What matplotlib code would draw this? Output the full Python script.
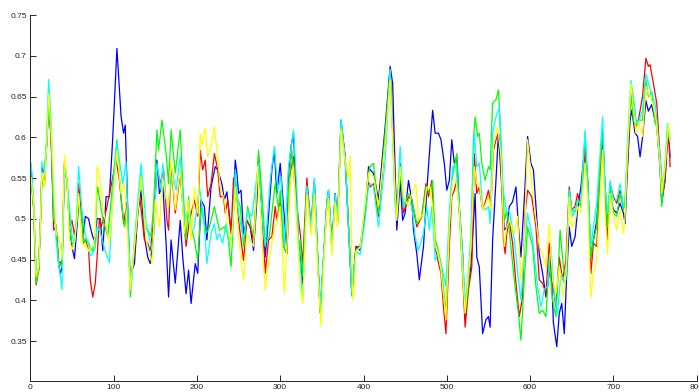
import matplotlib
matplotlib.use("Agg")
import matplotlib.pyplot as plt

# values, keypoints per series
blue_x = [1, 4, 7, 10, 12, 14, 17, 20, 22, 25, 28, 31, 34, 36, 38, 41, 44, 47, 50, 53, 56, 58, 62, 64, 66, 70, 72, 75, 78, 80,
          84, 87, 91, 95, 99, 104, 109, 112, 114, 116, 119, 121, 125, 129, 133, 137, 141, 144, 148, 152, 155, 159, 163,
          166, 169, 174, 180, 183, 187, 190, 193, 198, 201, 205, 209, 212, 217, 222, 225, 230, 233, 236, 240, 242, 246,
          248, 250, 253, 256, 260, 264, 268, 272, 274, 278, 282, 286, 290, 293, 296, 300, 304, 308, 310, 313, 316, 318,
          322, 324, 327, 332, 337, 341, 345, 348, 352, 356, 358, 362, 366, 369, 373, 378, 382, 386, 388, 391, 396, 402,
          406, 408, 412, 418, 426, 432, 435, 438, 440, 444, 447, 450, 454, 458, 460, 464, 467, 472, 476, 480, 483, 486,
          490, 493, 497, 500, 503, 506, 509, 512, 515, 519, 522, 525, 529, 534, 536, 539, 543, 547, 550, 552, 555, 559,
          562, 565, 569, 572, 575, 579, 583, 586, 589, 593, 597, 601, 604, 607, 611, 615, 619, 622, 625, 628, 632, 635,
          638, 641, 644, 647, 650, 654, 657, 661, 666, 669, 673, 676, 680, 684, 687, 690, 693, 696, 700, 704, 708, 712,
          714, 717, 720, 722, 726, 729, 732, 735, 739, 742, 746, 749, 752, 756, 758, 762, 765, 767, 768]
blue_y = [0.564, 0.515, 0.43, 0.437, 0.49, 0.563, 0.556, 0.597, 0.648, 0.6, 0.507, 0.49, 0.445, 0.433, 0.44, 0.565, 0.547,
          0.49, 0.466, 0.451, 0.49, 0.519, 0.5, 0.482, 0.503, 0.5, 0.49, 0.478, 0.47, 0.5,
          0.5, 0.461, 0.527, 0.527, 0.6, 0.709, 0.625, 0.605, 0.615, 0.547, 0.441, 0.433, 0.445, 0.507, 0.535, 0.478,
          0.453, 0.445, 0.482, 0.572, 0.531, 0.543, 0.47,
          0.404, 0.474, 0.421, 0.498, 0.453, 0.408, 0.437, 0.396, 0.445, 0.433, 0.523, 0.515, 0.474, 0.539, 0.564, 0.56,
          0.543, 0.523, 0.533, 0.494, 0.482, 0.572,
          0.556, 0.531, 0.535, 0.482, 0.498, 0.49, 0.461, 0.523, 0.568, 0.515, 0.453, 0.503, 0.56, 0.584, 0.531, 0.568,
          0.515, 0.461, 0.556, 0.589, 0.605, 0.556,
          0.47, 0.453, 0.42, 0.54, 0.49, 0.547, 0.453, 0.385, 0.45, 0.519, 0.535, 0.466, 0.531, 0.498, 0.621, 0.576, 0.49,
          0.408, 0.43, 0.466, 0.461, 0.507,
          0.564, 0.56, 0.556, 0.523, 0.613, 0.687, 0.666, 0.556, 0.486, 0.547, 0.498, 0.507, 0.547, 0.523, 0.486, 0.457,
          0.425, 0.466, 0.535, 0.593, 0.633, 0.605,
          0.605, 0.597, 0.568, 0.535, 0.547, 0.597, 0.568, 0.576, 0.515, 0.457, 0.376, 0.413, 0.441, 0.531, 0.453, 0.441,
          0.359, 0.376, 0.38, 0.367, 0.474, 0.547,
          0.605, 0.556, 0.486, 0.49, 0.515, 0.521, 0.539, 0.49, 0.453, 0.523, 0.601, 0.568, 0.56, 0.515, 0.457, 0.433,
          0.404, 0.425, 0.449, 0.372, 0.343, 0.384,
          0.396, 0.359, 0.433, 0.49, 0.466, 0.478, 0.511, 0.539, 0.593, 0.547, 0.453, 0.474, 0.498, 0.56, 0.605, 0.539,
          0.49, 0.527, 0.511, 0.507, 0.519, 0.507,
          0.494, 0.564, 0.621, 0.633, 0.605, 0.601, 0.576, 0.6, 0.645, 0.632, 0.64, 0.625, 0.615, 0.56, 0.519, 0.547,
          0.601, 0.592, 0.576]

red_x = [1, 4, 7, 10, 12, 14, 17, 20, 22, 25, 28, 31, 34, 36, 38, 41, 44, 47, 50, 53, 56, 58, 62, 64, 66, 70, 72, 75, 78, 80,
         83, 85, 91, 95, 103, 107, 112, 116, 120, 125, 131, 137, 141, 144, 148, 152, 156, 160, 164, 166, 169, 174, 180,
         185, 187, 191, 197, 201, 204, 207, 210, 213, 217, 221, 225, 228, 232, 234, 237, 241, 244, 250, 256, 260, 264,
         268, 274, 278, 282, 286, 290, 294, 296, 300, 304, 308, 312, 316, 320, 324, 327, 332, 337, 341, 345, 348, 352,
         356, 358, 362, 366, 369, 373, 378, 382, 386, 388, 391, 396, 402, 406, 408, 412, 418, 426, 432, 438, 440, 444,
         448, 454, 458, 464, 470, 475, 478, 482, 486, 489, 493, 496, 499, 503, 506, 509, 512, 516, 519, 522, 526, 530,
         533, 536, 539, 543, 547, 550, 553, 556, 559, 562, 565, 568, 570, 572, 575, 579, 583, 587, 591, 594, 597, 602,
         607, 611, 615, 619, 623, 627, 631, 635, 639, 643, 647, 650, 654, 657, 661, 666, 669, 673, 676, 680, 684, 687,
         690, 693, 696, 700, 704, 708, 712, 714, 717, 720, 723, 726, 730, 735, 739, 742, 744, 748, 752, 756, 759, 762,
         765, 767, 768]
red_y = [0.55, 0.515, 0.419, 0.437, 0.49, 0.553, 0.545, 0.597, 0.64, 0.6, 0.486, 0.49, 0.445, 0.447, 0.44, 0.57, 0.547, 0.49,
         0.498, 0.48, 0.5, 0.543, 0.5, 0.47, 0.475, 0.461, 0.425, 0.404, 0.421, 0.45,
         0.5, 0.49, 0.51, 0.53, 0.572, 0.547, 0.494, 0.52, 0.425, 0.457, 0.531, 0.474, 0.47, 0.461, 0.498, 0.564, 0.543,
         0.56, 0.498, 0.486, 0.568, 0.507, 0.556,
         0.49, 0.466, 0.498, 0.523, 0.503, 0.584, 0.56, 0.572, 0.527, 0.543, 0.58, 0.56, 0.527, 0.527, 0.507, 0.523,
         0.482, 0.55, 0.498, 0.449, 0.498, 0.49,
         0.474, 0.576, 0.515, 0.433, 0.474, 0.478, 0.515, 0.498, 0.523, 0.466, 0.457, 0.556, 0.576, 0.515, 0.482, 0.445,
         0.55, 0.49, 0.54, 0.453, 0.385, 0.45,
         0.52, 0.53, 0.47, 0.525, 0.498, 0.618, 0.576, 0.49, 0.408, 0.43, 0.466, 0.466, 0.51, 0.545, 0.539, 0.543, 0.503,
         0.597, 0.683, 0.543, 0.507, 0.568,
         0.507, 0.527, 0.523, 0.49, 0.503, 0.543, 0.527, 0.547, 0.466, 0.45, 0.433, 0.392, 0.359, 0.466, 0.527, 0.535,
         0.547, 0.498, 0.433, 0.367, 0.413, 0.441,
         0.58, 0.531, 0.539, 0.511, 0.523, 0.535, 0.515, 0.584, 0.597, 0.605, 0.576, 0.474, 0.457, 0.482, 0.498, 0.47,
         0.421, 0.38, 0.404, 0.507, 0.535, 0.527,
         0.49, 0.425, 0.421, 0.408, 0.47, 0.421, 0.392, 0.453, 0.425, 0.449, 0.539, 0.511, 0.515, 0.531, 0.515, 0.584,
         0.547, 0.433, 0.47, 0.466, 0.547, 0.597,
         0.527, 0.474, 0.543, 0.527, 0.519, 0.535, 0.515, 0.519, 0.568, 0.637, 0.654, 0.613, 0.621, 0.65, 0.697, 0.687,
         0.689, 0.666, 0.642, 0.576, 0.531, 0.547,
         0.601, 0.592, 0.564]

green_x = [1, 4, 7, 10, 12, 14, 17, 20, 22, 25, 28, 31, 34, 36, 38, 41, 44, 47, 50, 53, 56, 58, 62, 64, 66, 70, 72, 75, 78, 80,
           81, 87, 93, 97, 104, 109, 113, 117, 120, 123, 127, 133, 137, 141, 145, 148, 152, 154, 158, 163, 166, 169, 174,
           180, 183, 187, 190, 193, 197, 201, 205, 211, 215, 221, 227, 233, 237, 241, 246, 248, 252, 256, 261, 266, 269,
           274, 278, 282, 287, 290, 294, 298, 300, 304, 308, 310, 314, 318, 322, 324, 327, 332, 337, 341, 345, 348, 352,
           356, 358, 362, 366, 369, 373, 378, 382, 386, 388, 391, 396, 402, 406, 408, 412, 418, 426, 432, 438, 440, 444,
           448, 454, 458, 464, 470, 475, 480, 483, 486, 489, 493, 499, 503, 506, 509, 512, 515, 519, 522, 526, 529, 532,
           534, 537, 539, 542, 546, 550, 552, 555, 559, 562, 565, 569, 572, 575, 581, 586, 589, 593, 597, 603, 607, 611,
           615, 619, 623, 627, 631, 636, 640, 643, 647, 650, 654, 657, 661, 666, 669, 673, 676, 680, 684, 687, 690, 693,
           696, 700, 704, 708, 712, 714, 717, 721, 724, 727, 730, 735, 739, 742, 746, 750, 752, 756, 758, 762, 765, 768]
green_y = [0.55, 0.51, 0.421, 0.437, 0.49, 0.553, 0.539, 0.597, 0.637, 0.6, 0.5, 0.49, 0.445, 0.445, 0.44, 0.565, 0.547,
           0.49, 0.47, 0.47, 0.498, 0.52, 0.5, 0.47, 0.475, 0.47, 0.465, 0.46, 0.48, 0.53,
           0.539, 0.5, 0.478, 0.523, 0.597, 0.523, 0.49, 0.515, 0.404, 0.441, 0.49, 0.556, 0.49, 0.486, 0.478, 0.515,
           0.609, 0.584, 0.621, 0.58, 0.543, 0.609, 0.556,
           0.609, 0.543, 0.474, 0.527, 0.49, 0.474, 0.449, 0.515, 0.482, 0.49, 0.515, 0.486, 0.49, 0.482, 0.441, 0.547,
           0.527, 0.515, 0.466, 0.515, 0.486, 0.478,
           0.584, 0.531, 0.47, 0.478, 0.507, 0.543, 0.511, 0.535, 0.466, 0.457, 0.535, 0.584, 0.535, 0.466, 0.474, 0.43,
           0.54, 0.485, 0.54, 0.45, 0.385, 0.45,
           0.515, 0.53, 0.462, 0.525, 0.495, 0.615, 0.57, 0.49, 0.405, 0.43, 0.462, 0.466, 0.515, 0.555, 0.564, 0.568,
           0.507, 0.605, 0.683, 0.523, 0.507, 0.556,
           0.515, 0.531, 0.523, 0.494, 0.503, 0.539, 0.531, 0.547, 0.474, 0.465, 0.445, 0.384, 0.49, 0.547, 0.564, 0.58,
           0.507, 0.433, 0.384, 0.421, 0.466, 0.597,
           0.625, 0.601, 0.605, 0.568, 0.547, 0.564, 0.56, 0.642, 0.646, 0.658, 0.597, 0.498, 0.51, 0.486, 0.425, 0.384,
           0.351, 0.425, 0.49, 0.466, 0.417, 0.384,
           0.388, 0.38, 0.449, 0.4, 0.38, 0.486, 0.441, 0.425, 0.535, 0.511, 0.509, 0.523, 0.515, 0.605, 0.552, 0.453,
           0.474, 0.49, 0.564, 0.609, 0.535, 0.49,
           0.539, 0.507, 0.503, 0.531, 0.511, 0.519, 0.584, 0.654, 0.621, 0.613, 0.621, 0.621, 0.67, 0.65, 0.656, 0.617,
           0.613, 0.572, 0.515, 0.564, 0.609, 0.597]

cyan_x = [1, 4, 7, 10, 12, 14, 17, 20, 22, 25, 28, 31, 34, 36, 38, 41, 44, 47, 50, 53, 56, 58, 62, 64, 66, 70, 72, 75, 78, 80,
          84, 90, 95, 99, 104, 111, 115, 118, 121, 125, 133, 139, 147, 152, 157, 159, 163, 166, 171, 175, 180, 185, 189,
          193, 197, 203, 208, 212, 217, 221, 224, 227, 231, 235, 239, 243, 246, 250, 256, 261, 266, 274, 280, 282, 288,
          293, 297, 301, 305, 310, 316, 320, 322, 327, 332, 337, 341, 345, 348, 352, 356, 358, 362, 366, 369, 373, 378,
          382, 386, 388, 391, 396, 402, 406, 408, 412, 418, 426, 432, 438, 440, 444, 448, 454, 458, 460, 462, 466, 472,
          476, 479, 482, 486, 489, 493, 499, 503, 507, 511, 515, 519, 522, 526, 529, 533, 536, 539, 543, 547, 550, 552,
          555, 559, 563, 567, 572, 575, 581, 586, 589, 593, 597, 603, 609, 613, 617, 621, 625, 629, 633, 637, 641, 644,
          647, 651, 654, 657, 661, 666, 669, 673, 676, 680, 684, 687, 690, 693, 696, 700, 704, 708, 712, 714, 717, 721,
          725, 728, 731, 735, 739, 742, 746, 750, 752, 756, 759, 762, 765, 768]
cyan_y = [0.568, 0.52, 0.435, 0.44, 0.49, 0.57, 0.556, 0.61, 0.671, 0.62, 0.523, 0.474, 0.445, 0.43, 0.413, 0.565, 0.547,
          0.515, 0.48, 0.47, 0.51, 0.564, 0.51, 0.494, 0.48, 0.47, 0.455, 0.457, 0.465, 0.49,
          0.483, 0.46, 0.446, 0.535, 0.593, 0.543, 0.57, 0.474, 0.417, 0.474, 0.568, 0.494, 0.457, 0.568, 0.535, 0.568,
          0.523, 0.523, 0.556, 0.535, 0.576, 0.498, 0.511,
          0.482, 0.49, 0.539, 0.503, 0.445, 0.482, 0.494, 0.474, 0.482, 0.47, 0.494, 0.466, 0.49, 0.56, 0.507, 0.474,
          0.511, 0.503, 0.568, 0.482, 0.466, 0.547,
          0.589, 0.535, 0.552, 0.466, 0.564, 0.609, 0.535, 0.474, 0.4, 0.54, 0.49, 0.55, 0.455, 0.39, 0.455, 0.52, 0.535,
          0.468, 0.53, 0.498, 0.622, 0.575,
          0.49, 0.41, 0.435, 0.46, 0.456, 0.5, 0.54, 0.543, 0.54, 0.49, 0.572, 0.683, 0.515, 0.507, 0.589, 0.515, 0.523,
          0.515, 0.498, 0.478, 0.461, 0.482,
          0.515, 0.486, 0.515, 0.449, 0.457, 0.445, 0.417, 0.507, 0.564, 0.564, 0.515, 0.457, 0.396, 0.437, 0.482, 0.605,
          0.564, 0.568, 0.515, 0.511, 0.515, 0.494,
          0.605, 0.625, 0.637, 0.539, 0.507, 0.511, 0.474, 0.425, 0.4, 0.457, 0.507, 0.474, 0.417, 0.392, 0.413, 0.417,
          0.466, 0.408, 0.384, 0.433, 0.421, 0.433,
          0.535, 0.503, 0.51, 0.523, 0.519, 0.609, 0.543, 0.466, 0.49, 0.519, 0.58, 0.625, 0.539, 0.507, 0.547, 0.523,
          0.523, 0.543, 0.515, 0.523, 0.597, 0.67,
          0.642, 0.617, 0.621, 0.633, 0.678, 0.666, 0.654, 0.642, 0.621, 0.576, 0.539, 0.568, 0.617, 0.601]

yellow_x = [1, 4, 7, 10, 12, 14, 17, 20, 22, 25, 28, 31, 34, 36, 38, 41, 44, 47, 50, 53, 56, 58, 62, 64, 66, 70, 72, 75, 78,
            80, 82, 87, 95, 104, 109, 113, 117, 120, 125, 133, 139, 146, 150, 155, 159, 163, 166, 169, 174, 180, 185, 190,
            193, 197, 201, 204, 206, 210, 213, 217, 221, 224, 228, 233, 237, 241, 246, 250, 256, 260, 264, 268, 273, 278,
            282, 287, 292, 296, 300, 305, 308, 312, 316, 320, 324, 327, 332, 337, 341, 345, 349, 352, 356, 358, 362, 366,
            369, 373, 378, 382, 384, 387, 389, 391, 396, 402, 406, 412, 418, 426, 432, 438, 440, 444, 448, 454, 458, 463,
            466, 472, 476, 480, 483, 486, 490, 493, 499, 503, 507, 511, 515, 519, 522, 526, 529, 533, 536, 539, 543, 547,
            550, 553, 556, 561, 565, 569, 572, 575, 581, 585, 589, 593, 597, 601, 605, 611, 615, 619, 623, 627, 631, 635,
            640, 643, 647, 650, 654, 657, 661, 666, 669, 673, 676, 680, 684, 687, 690, 693, 696, 700, 704, 708, 712, 714,
            717, 721, 724, 727, 730, 735, 739, 742, 746, 750, 752, 756, 758, 762, 766, 768]
yellow_y = [0.55, 0.52, 0.429, 0.44, 0.49, 0.556, 0.539, 0.6, 0.654, 0.61, 0.547, 0.482, 0.478, 0.466, 0.45, 0.578, 0.547,
            0.474, 0.462, 0.47, 0.5, 0.531, 0.47, 0.466, 0.47, 0.46, 0.465, 0.465, 0.48,
            0.563, 0.56, 0.515, 0.47, 0.584, 0.531, 0.543, 0.474, 0.413, 0.466, 0.552, 0.474, 0.445, 0.523, 0.49, 0.547,
            0.527, 0.515, 0.572, 0.511, 0.56, 0.482, 0.523,
            0.474, 0.539, 0.507, 0.605, 0.589, 0.611, 0.576, 0.589, 0.613, 0.584, 0.539, 0.523, 0.49, 0.466, 0.539, 0.478,
            0.425, 0.482, 0.474, 0.466, 0.564, 0.474,
            0.413, 0.453, 0.482, 0.498, 0.515, 0.408, 0.466, 0.547, 0.564, 0.494, 0.417, 0.396, 0.53, 0.48, 0.53, 0.44,
            0.368, 0.44, 0.51, 0.525, 0.455, 0.52,
            0.49, 0.61, 0.57, 0.55, 0.577, 0.4, 0.42, 0.46, 0.465, 0.52, 0.556, 0.552, 0.515, 0.593, 0.67, 0.531, 0.498,
            0.564, 0.527, 0.515, 0.531, 0.543,
            0.498, 0.507, 0.539, 0.539, 0.515, 0.466, 0.457, 0.437, 0.376, 0.49, 0.547, 0.547, 0.511, 0.437, 0.384, 0.433,
            0.466, 0.564, 0.543, 0.543, 0.511, 0.519,
            0.527, 0.511, 0.589, 0.613, 0.576, 0.466, 0.49, 0.498, 0.482, 0.503, 0.425, 0.466, 0.597, 0.556, 0.515, 0.466,
            0.457, 0.441, 0.494, 0.425, 0.408, 0.441,
            0.404, 0.433, 0.527, 0.49, 0.497, 0.515, 0.507, 0.568, 0.527, 0.404, 0.433, 0.449, 0.531, 0.584, 0.507, 0.457,
            0.531, 0.503, 0.486, 0.511, 0.482, 0.503,
            0.584, 0.666, 0.637, 0.605, 0.617, 0.601, 0.662, 0.654, 0.645, 0.629, 0.613, 0.564, 0.531, 0.564, 0.617, 0.597]

x_ticks = [0, 100, 200, 300, 400, 500, 600, 700, 800]
y_ticks = [0.35, 0.4, 0.45, 0.5, 0.55, 0.6, 0.65, 0.7, 0.75]
y_tick_labels = ["0.35", "0.4", "0.45", "0.5", "0.55", "0.6", "0.65", "0.7", "0.75"]

axis_col = "#262626"
plt.rcParams["font.family"] = ["Liberation Sans", "DejaVu Sans"]

fig = plt.figure(figsize=(6.99, 3.92), dpi=100)
ax = fig.add_axes([30.3 / 699, 1 - 380.7 / 392, (696.7 - 30.3) / 699, (380.7 - 15) / 392])

for xs, ys, col in [(blue_x, blue_y, "#0000ff"), (red_x, red_y, "#ff0000"), (green_x, green_y, "#00ff00"),
                    (cyan_x, cyan_y, "#00ffff"), (yellow_x, yellow_y, "#ffff00")]:
    ax.plot(xs, ys, color=col, lw=0.9)

ax.set_xlim(0, 800)
ax.set_ylim(0.3013, 0.75)
ax.set_xticks(x_ticks)
ax.set_yticks(y_ticks)
ax.set_yticklabels(y_tick_labels)
ax.spines["top"].set_visible(False)
ax.spines["right"].set_visible(False)
for s in ["left", "bottom"]:
    ax.spines[s].set_color(axis_col)
    ax.spines[s].set_linewidth(0.7)
ax.tick_params(direction="in", length=4, width=0.7, color=axis_col, labelcolor=axis_col,
               labelsize=6, pad=2.5)

fig.savefig("out.png", dpi=100)
